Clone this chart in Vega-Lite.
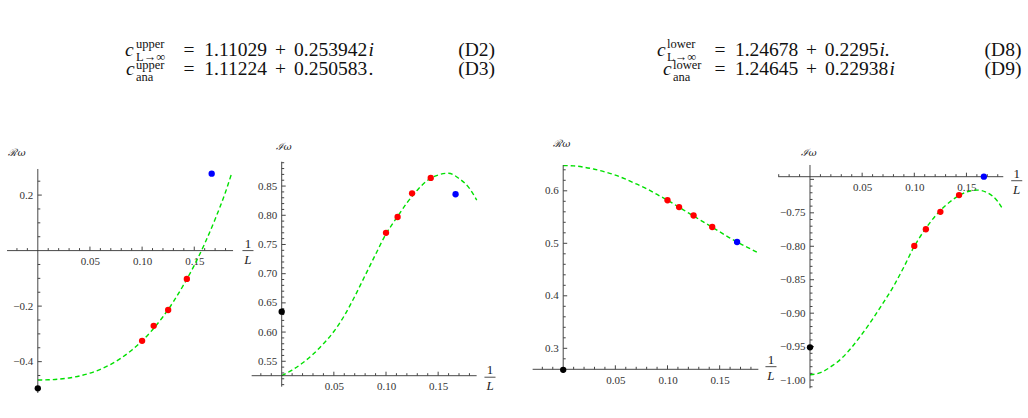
{
"$schema": "https://vega.github.io/schema/vega-lite/v6.json",
"padding": 0,
"background": "white",
"config": {"view": {"stroke": null}, "axis": {"domain": false, "grid": false, "tickSize": 0, "labelFont": "Liberation Serif", "labelFontSize": 11, "labelColor": "#333", "labelPadding": 5, "labelFlush": false, "labelOverlap": false}},
"datasets": {
"eqMain": [{"t": "=", "x": 189, "y": 56}, {"t": "1.11029", "x": 235.6, "y": 56}, {"t": "+", "x": 280.6, "y": 56}, {"t": "0.253942", "x": 330.6, "y": 56}, {"t": "=", "x": 189, "y": 75}, {"t": "1.11224", "x": 235.6, "y": 75}, {"t": "+", "x": 280.6, "y": 75}, {"t": "0.250583", "x": 330.6, "y": 75}, {"t": "=", "x": 720, "y": 56}, {"t": "1.24678", "x": 766.6, "y": 56}, {"t": "+", "x": 811.6, "y": 56}, {"t": "0.2295", "x": 851.6, "y": 56}, {"t": "=", "x": 720, "y": 75}, {"t": "1.24645", "x": 766.6, "y": 75}, {"t": "+", "x": 811.6, "y": 75}, {"t": "0.22938", "x": 856.6, "y": 75}],
"eqDot": [{"t": ".", "x": 368.5, "y": 75}],
"eqItal": [{"t": "c", "x": 125, "y": 56}, {"t": "c", "x": 126, "y": 75}, {"t": "c", "x": 657, "y": 56}, {"t": "c", "x": 663, "y": 75}, {"t": "i", "x": 368.5, "y": 56}, {"t": "i.", "x": 879.5, "y": 56}, {"t": "i", "x": 889.5, "y": 75}],
"eqScript": [{"t": "upper", "x": 136, "y": 47.5}, {"t": "L→∞", "x": 136, "y": 60.5}, {"t": "upper", "x": 136, "y": 68.5}, {"t": "ana", "x": 136, "y": 81}, {"t": "lower", "x": 667, "y": 47.5}, {"t": "L→∞", "x": 667, "y": 60.5}, {"t": "lower", "x": 673, "y": 68.5}, {"t": "ana", "x": 673, "y": 81}],
"eqNum": [{"t": "(D2)", "x": 476.7, "y": 56}, {"t": "(D3)", "x": 476.7, "y": 75}, {"t": "(D8)", "x": 1003, "y": 56}, {"t": "(D9)", "x": 1003, "y": 75}],
"xt1": [{"x": -0.02, "y": 0, "major": 0}, {"x": -0.01, "y": 0, "major": 0}, {"x": 0.01, "y": 0, "major": 0}, {"x": 0.02, "y": 0, "major": 0}, {"x": 0.03, "y": 0, "major": 0}, {"x": 0.04, "y": 0, "major": 0}, {"x": 0.05, "y": 0, "major": 1}, {"x": 0.06, "y": 0, "major": 0}, {"x": 0.07, "y": 0, "major": 0}, {"x": 0.08, "y": 0, "major": 0}, {"x": 0.09, "y": 0, "major": 0}, {"x": 0.1, "y": 0, "major": 1}, {"x": 0.11, "y": 0, "major": 0}, {"x": 0.12, "y": 0, "major": 0}, {"x": 0.13, "y": 0, "major": 0}, {"x": 0.14, "y": 0, "major": 0}, {"x": 0.15, "y": 0, "major": 1}, {"x": 0.16, "y": 0, "major": 0}, {"x": 0.17, "y": 0, "major": 0}, {"x": 0.18, "y": 0, "major": 0}],
"xt2": [{"x": -0.02, "y": 0.5253, "major": 0}, {"x": -0.01, "y": 0.5253, "major": 0}, {"x": 0.01, "y": 0.5253, "major": 0}, {"x": 0.02, "y": 0.5253, "major": 0}, {"x": 0.03, "y": 0.5253, "major": 0}, {"x": 0.04, "y": 0.5253, "major": 0}, {"x": 0.05, "y": 0.5253, "major": 1}, {"x": 0.06, "y": 0.5253, "major": 0}, {"x": 0.07, "y": 0.5253, "major": 0}, {"x": 0.08, "y": 0.5253, "major": 0}, {"x": 0.09, "y": 0.5253, "major": 0}, {"x": 0.1, "y": 0.5253, "major": 1}, {"x": 0.11, "y": 0.5253, "major": 0}, {"x": 0.12, "y": 0.5253, "major": 0}, {"x": 0.13, "y": 0.5253, "major": 0}, {"x": 0.14, "y": 0.5253, "major": 0}, {"x": 0.15, "y": 0.5253, "major": 1}, {"x": 0.16, "y": 0.5253, "major": 0}, {"x": 0.17, "y": 0.5253, "major": 0}, {"x": 0.18, "y": 0.5253, "major": 0}],
"xt3": [{"x": -0.02, "y": 0.26, "major": 0}, {"x": -0.01, "y": 0.26, "major": 0}, {"x": 0.01, "y": 0.26, "major": 0}, {"x": 0.02, "y": 0.26, "major": 0}, {"x": 0.03, "y": 0.26, "major": 0}, {"x": 0.04, "y": 0.26, "major": 0}, {"x": 0.05, "y": 0.26, "major": 1}, {"x": 0.06, "y": 0.26, "major": 0}, {"x": 0.07, "y": 0.26, "major": 0}, {"x": 0.08, "y": 0.26, "major": 0}, {"x": 0.09, "y": 0.26, "major": 0}, {"x": 0.1, "y": 0.26, "major": 1}, {"x": 0.11, "y": 0.26, "major": 0}, {"x": 0.12, "y": 0.26, "major": 0}, {"x": 0.13, "y": 0.26, "major": 0}, {"x": 0.14, "y": 0.26, "major": 0}, {"x": 0.15, "y": 0.26, "major": 1}, {"x": 0.16, "y": 0.26, "major": 0}, {"x": 0.17, "y": 0.26, "major": 0}, {"x": 0.18, "y": 0.26, "major": 0}],
"xt4": [{"x": -0.03, "y": -0.696, "major": 0}, {"x": -0.02, "y": -0.696, "major": 0}, {"x": -0.01, "y": -0.696, "major": 0}, {"x": 0.01, "y": -0.696, "major": 0}, {"x": 0.02, "y": -0.696, "major": 0}, {"x": 0.03, "y": -0.696, "major": 0}, {"x": 0.04, "y": -0.696, "major": 0}, {"x": 0.05, "y": -0.696, "major": 1}, {"x": 0.06, "y": -0.696, "major": 0}, {"x": 0.07, "y": -0.696, "major": 0}, {"x": 0.08, "y": -0.696, "major": 0}, {"x": 0.09, "y": -0.696, "major": 0}, {"x": 0.1, "y": -0.696, "major": 1}, {"x": 0.11, "y": -0.696, "major": 0}, {"x": 0.12, "y": -0.696, "major": 0}, {"x": 0.13, "y": -0.696, "major": 0}, {"x": 0.14, "y": -0.696, "major": 0}, {"x": 0.15, "y": -0.696, "major": 1}, {"x": 0.16, "y": -0.696, "major": 0}, {"x": 0.17, "y": -0.696, "major": 0}, {"x": 0.18, "y": -0.696, "major": 0}],
"yt1": [{"x": 0, "y": -0.5, "major": 0}, {"x": 0, "y": -0.45, "major": 0}, {"x": 0, "y": -0.4, "major": 1}, {"x": 0, "y": -0.35, "major": 0}, {"x": 0, "y": -0.3, "major": 0}, {"x": 0, "y": -0.25, "major": 0}, {"x": 0, "y": -0.2, "major": 1}, {"x": 0, "y": -0.15, "major": 0}, {"x": 0, "y": -0.1, "major": 0}, {"x": 0, "y": -0.05, "major": 0}, {"x": 0, "y": 0.05, "major": 0}, {"x": 0, "y": 0.1, "major": 0}, {"x": 0, "y": 0.15, "major": 0}, {"x": 0, "y": 0.2, "major": 1}, {"x": 0, "y": 0.25, "major": 0}],
"yt2": [{"x": 0, "y": 0.51, "major": 0}, {"x": 0, "y": 0.52, "major": 0}, {"x": 0, "y": 0.53, "major": 0}, {"x": 0, "y": 0.54, "major": 0}, {"x": 0, "y": 0.55, "major": 1}, {"x": 0, "y": 0.56, "major": 0}, {"x": 0, "y": 0.57, "major": 0}, {"x": 0, "y": 0.58, "major": 0}, {"x": 0, "y": 0.59, "major": 0}, {"x": 0, "y": 0.6, "major": 1}, {"x": 0, "y": 0.61, "major": 0}, {"x": 0, "y": 0.62, "major": 0}, {"x": 0, "y": 0.63, "major": 0}, {"x": 0, "y": 0.64, "major": 0}, {"x": 0, "y": 0.65, "major": 1}, {"x": 0, "y": 0.66, "major": 0}, {"x": 0, "y": 0.67, "major": 0}, {"x": 0, "y": 0.68, "major": 0}, {"x": 0, "y": 0.69, "major": 0}, {"x": 0, "y": 0.7, "major": 1}, {"x": 0, "y": 0.71, "major": 0}, {"x": 0, "y": 0.72, "major": 0}, {"x": 0, "y": 0.73, "major": 0}, {"x": 0, "y": 0.74, "major": 0}, {"x": 0, "y": 0.75, "major": 1}, {"x": 0, "y": 0.76, "major": 0}, {"x": 0, "y": 0.77, "major": 0}, {"x": 0, "y": 0.78, "major": 0}, {"x": 0, "y": 0.79, "major": 0}, {"x": 0, "y": 0.8, "major": 1}, {"x": 0, "y": 0.81, "major": 0}, {"x": 0, "y": 0.82, "major": 0}, {"x": 0, "y": 0.83, "major": 0}, {"x": 0, "y": 0.84, "major": 0}, {"x": 0, "y": 0.85, "major": 1}, {"x": 0, "y": 0.86, "major": 0}, {"x": 0, "y": 0.87, "major": 0}, {"x": 0, "y": 0.88, "major": 0}, {"x": 0, "y": 0.89, "major": 0}],
"yt3": [{"x": 0, "y": 0.28, "major": 0}, {"x": 0, "y": 0.3, "major": 1}, {"x": 0, "y": 0.32, "major": 0}, {"x": 0, "y": 0.34, "major": 0}, {"x": 0, "y": 0.36, "major": 0}, {"x": 0, "y": 0.38, "major": 0}, {"x": 0, "y": 0.4, "major": 1}, {"x": 0, "y": 0.42, "major": 0}, {"x": 0, "y": 0.44, "major": 0}, {"x": 0, "y": 0.46, "major": 0}, {"x": 0, "y": 0.48, "major": 0}, {"x": 0, "y": 0.5, "major": 1}, {"x": 0, "y": 0.52, "major": 0}, {"x": 0, "y": 0.54, "major": 0}, {"x": 0, "y": 0.56, "major": 0}, {"x": 0, "y": 0.58, "major": 0}, {"x": 0, "y": 0.6, "major": 1}, {"x": 0, "y": 0.62, "major": 0}, {"x": 0, "y": 0.64, "major": 0}],
"yt4": [{"x": 0, "y": -1.01, "major": 0}, {"x": 0, "y": -1.0, "major": 1}, {"x": 0, "y": -0.99, "major": 0}, {"x": 0, "y": -0.98, "major": 0}, {"x": 0, "y": -0.97, "major": 0}, {"x": 0, "y": -0.96, "major": 0}, {"x": 0, "y": -0.95, "major": 1}, {"x": 0, "y": -0.94, "major": 0}, {"x": 0, "y": -0.93, "major": 0}, {"x": 0, "y": -0.92, "major": 0}, {"x": 0, "y": -0.91, "major": 0}, {"x": 0, "y": -0.9, "major": 1}, {"x": 0, "y": -0.89, "major": 0}, {"x": 0, "y": -0.88, "major": 0}, {"x": 0, "y": -0.87, "major": 0}, {"x": 0, "y": -0.86, "major": 0}, {"x": 0, "y": -0.85, "major": 1}, {"x": 0, "y": -0.84, "major": 0}, {"x": 0, "y": -0.83, "major": 0}, {"x": 0, "y": -0.82, "major": 0}, {"x": 0, "y": -0.81, "major": 0}, {"x": 0, "y": -0.8, "major": 1}, {"x": 0, "y": -0.79, "major": 0}, {"x": 0, "y": -0.78, "major": 0}, {"x": 0, "y": -0.77, "major": 0}, {"x": 0, "y": -0.76, "major": 0}, {"x": 0, "y": -0.75, "major": 1}, {"x": 0, "y": -0.74, "major": 0}, {"x": 0, "y": -0.73, "major": 0}, {"x": 0, "y": -0.72, "major": 0}, {"x": 0, "y": -0.71, "major": 0}, {"x": 0, "y": -0.7, "major": 1}],
"c1": [{"x": 0, "y": -0.466}, {"x": 0.01, "y": -0.4654}, {"x": 0.02, "y": -0.4631}, {"x": 0.03, "y": -0.4587}, {"x": 0.04, "y": -0.4517}, {"x": 0.05, "y": -0.4415}, {"x": 0.06, "y": -0.4277}, {"x": 0.07, "y": -0.4096}, {"x": 0.08, "y": -0.3868}, {"x": 0.09, "y": -0.3588}, {"x": 0.1, "y": -0.325}, {"x": 0.11, "y": -0.285}, {"x": 0.12, "y": -0.2382}, {"x": 0.13, "y": -0.1841}, {"x": 0.14, "y": -0.1221}, {"x": 0.15, "y": -0.053}, {"x": 0.16, "y": 0.025}, {"x": 0.17, "y": 0.113}, {"x": 0.18, "y": 0.211}, {"x": 0.1855, "y": 0.274}],
"c2": [{"x": 0, "y": 0.5253}, {"x": 0.01, "y": 0.535}, {"x": 0.02, "y": 0.547}, {"x": 0.03, "y": 0.562}, {"x": 0.04, "y": 0.58}, {"x": 0.05, "y": 0.601}, {"x": 0.06, "y": 0.628}, {"x": 0.07, "y": 0.661}, {"x": 0.08, "y": 0.697}, {"x": 0.09, "y": 0.733}, {"x": 0.1, "y": 0.768}, {"x": 0.11, "y": 0.795}, {"x": 0.12, "y": 0.821}, {"x": 0.13, "y": 0.843}, {"x": 0.14, "y": 0.86}, {"x": 0.15, "y": 0.869}, {"x": 0.16, "y": 0.872}, {"x": 0.17, "y": 0.863}, {"x": 0.18, "y": 0.846}, {"x": 0.187, "y": 0.826}],
"c3": [{"x": 0, "y": 0.648}, {"x": 0.01, "y": 0.6475}, {"x": 0.02, "y": 0.645}, {"x": 0.03, "y": 0.641}, {"x": 0.04, "y": 0.636}, {"x": 0.05, "y": 0.63}, {"x": 0.06, "y": 0.622}, {"x": 0.07, "y": 0.613}, {"x": 0.08, "y": 0.604}, {"x": 0.09, "y": 0.593}, {"x": 0.1, "y": 0.582}, {"x": 0.11, "y": 0.57}, {"x": 0.12, "y": 0.558}, {"x": 0.13, "y": 0.546}, {"x": 0.14, "y": 0.534}, {"x": 0.15, "y": 0.522}, {"x": 0.16, "y": 0.51}, {"x": 0.17, "y": 0.499}, {"x": 0.18, "y": 0.489}, {"x": 0.187, "y": 0.482}],
"c4": [{"x": 0, "y": -0.992}, {"x": 0.01, "y": -0.989}, {"x": 0.02, "y": -0.98}, {"x": 0.03, "y": -0.968}, {"x": 0.04, "y": -0.951}, {"x": 0.05, "y": -0.931}, {"x": 0.06, "y": -0.909}, {"x": 0.07, "y": -0.885}, {"x": 0.08, "y": -0.86}, {"x": 0.09, "y": -0.831}, {"x": 0.1, "y": -0.8}, {"x": 0.11, "y": -0.7755}, {"x": 0.12, "y": -0.755}, {"x": 0.13, "y": -0.739}, {"x": 0.14, "y": -0.727}, {"x": 0.15, "y": -0.719}, {"x": 0.16, "y": -0.716}, {"x": 0.17, "y": -0.72}, {"x": 0.18, "y": -0.733}, {"x": 0.1853, "y": -0.746}],
"p1": [{"x": 0.1, "y": -0.325, "kind": "fit"}, {"x": 0.1111, "y": -0.271, "kind": "fit"}, {"x": 0.125, "y": -0.214, "kind": "fit"}, {"x": 0.1429, "y": -0.102, "kind": "fit"}, {"x": 0.1667, "y": 0.277, "kind": "excluded"}, {"x": 0, "y": -0.496, "kind": "limit"}],
"p2": [{"x": 0.1, "y": 0.77, "kind": "fit"}, {"x": 0.1111, "y": 0.797, "kind": "fit"}, {"x": 0.125, "y": 0.8375, "kind": "fit"}, {"x": 0.1429, "y": 0.864, "kind": "fit"}, {"x": 0.1667, "y": 0.836, "kind": "excluded"}, {"x": 0, "y": 0.635, "kind": "limit"}],
"p3": [{"x": 0.1, "y": 0.582, "kind": "fit"}, {"x": 0.1111, "y": 0.569, "kind": "fit"}, {"x": 0.125, "y": 0.553, "kind": "fit"}, {"x": 0.1429, "y": 0.531, "kind": "fit"}, {"x": 0.1667, "y": 0.5025, "kind": "excluded"}, {"x": 0, "y": 0.259, "kind": "limit"}],
"p4": [{"x": 0.1, "y": -0.7995, "kind": "fit"}, {"x": 0.1111, "y": -0.7745, "kind": "fit"}, {"x": 0.125, "y": -0.7485, "kind": "fit"}, {"x": 0.1429, "y": -0.7235, "kind": "fit"}, {"x": 0.1667, "y": -0.696, "kind": "excluded"}, {"x": 0, "y": -0.951, "kind": "limit"}],
"a1": [{"x": -0.0295, "x2": 0.1872, "y": 0, "y2": 0}, {"x": 0, "x2": 0, "y": -0.513, "y2": 0.294}],
"a2": [{"x": -0.0288, "x2": 0.1869, "y": 0.5253, "y2": 0.5253}, {"x": 0, "x2": 0, "y": 0.5065, "y2": 0.8917}],
"a3": [{"x": -0.0293, "x2": 0.1871, "y": 0.26, "y2": 0.26}, {"x": 0, "x2": 0, "y": 0.253, "y2": 0.6491}],
"a4": [{"x": -0.0304, "x2": 0.1853, "y": -0.696, "y2": -0.696}, {"x": 0, "x2": 0, "y": -1.0123, "y2": -0.6785}],
"t1": [{"x": -0.0199, "y": 0.3516, "t": "ℛω"}],
"t2": [{"x": 0.0022, "y": 0.9169, "t": "ℐω"}],
"t3": [{"x": -0.0012, "y": 0.689, "t": "ℛω"}],
"t4": [{"x": -0.001, "y": -0.6606, "t": "ℐω"}],
"fl1": [{"x": 0.2015, "y": 0}],
"fl2": [{"x": 0.1997, "y": 0.5227}],
"fl3": [{"x": 0.1992, "y": 0.265}],
"fl4": [{"x": 0.1982, "y": -0.702}],
"fb1": [{"x": 0.1962, "x2": 0.2068, "y": 0}],
"fb2": [{"x": 0.1944, "x2": 0.205, "y": 0.5227}],
"fb3": [{"x": 0.1939, "x2": 0.2045, "y": 0.265}],
"fb4": [{"x": 0.1929, "x2": 0.2035, "y": -0.702}]
},
"spacing": 0,
"bounds": "flush",
"vconcat": [
{
"width": 1028, "height": 158,
"encoding": {
"x": {"field": "x", "type": "quantitative", "scale": {"domain": [0, 1028], "nice": false, "zero": false}, "axis": null},
"y": {"field": "y", "type": "quantitative", "scale": {"domain": [0, 158], "nice": false, "zero": false, "reverse": true}, "axis": null},
"text": {"field": "t"}
},
"layer": [
{"data": {"name": "eqMain"}, "mark": {"type": "text", "font": "Liberation Serif", "fontSize": 19.5, "align": "center", "baseline": "alphabetic", "color": "#111"}},
{"data": {"name": "eqDot"}, "mark": {"type": "text", "font": "Liberation Serif", "fontSize": 19.5, "align": "left", "baseline": "alphabetic", "color": "#111"}},
{"data": {"name": "eqItal"}, "mark": {"type": "text", "font": "Liberation Serif", "fontStyle": "italic", "fontSize": 19.5, "align": "left", "baseline": "alphabetic", "color": "#111"}},
{"data": {"name": "eqScript"}, "mark": {"type": "text", "font": "Liberation Serif", "fontSize": 12.5, "align": "left", "baseline": "alphabetic", "color": "#111"}},
{"data": {"name": "eqNum"}, "mark": {"type": "text", "font": "Liberation Serif", "fontSize": 19.5, "align": "center", "baseline": "alphabetic", "color": "#111"}}
]
},
{
"hconcat": [
{
"width": 257, "height": 238,
"encoding": {
"x": {"field": "x", "type": "quantitative", "scale": {"domain": [-0.03624, 0.21016], "nice": false, "zero": false}, "axis": {"orient": "bottom", "offset": -145.4, "title": null, "values": [0.05, 0.1, 0.15], "format": ".2f"}},
"y": {"field": "y", "type": "quantitative", "scale": {"domain": [-0.52377, 0.33357], "nice": false, "zero": false}, "axis": {"orient": "left", "offset": -37.8, "title": null, "values": [-0.4, -0.2, 0.2], "labelExpr": "replace(format(datum.value, '.1f'), '-', '\u2212')"}}
},
"layer": [
{"data": {"name": "c1"}, "mark": {"type": "line", "color": "#00e000", "strokeWidth": 1.4, "strokeDash": [4.5, 3], "interpolate": "monotone"}},
{"data": {"name": "a1"}, "mark": {"type": "rule", "color": "#333", "strokeWidth": 0.9}, "encoding": {"x2": {"field": "x2"}, "y2": {"field": "y2"}}},
{"data": {"name": "xt1"}, "transform": [{"filter": "datum.major == 1"}], "mark": {"type": "rule", "color": "#444", "strokeWidth": 1, "y2Offset": -4}, "encoding": {"y2": {"field": "y"}}},
{"data": {"name": "xt1"}, "transform": [{"filter": "datum.major == 0"}], "mark": {"type": "rule", "color": "#444", "strokeWidth": 1, "y2Offset": -2.5}, "encoding": {"y2": {"field": "y"}}},
{"data": {"name": "yt1"}, "transform": [{"filter": "datum.major == 1"}], "mark": {"type": "rule", "color": "#444", "strokeWidth": 1, "x2Offset": 4}, "encoding": {"x2": {"field": "x"}}},
{"data": {"name": "yt1"}, "transform": [{"filter": "datum.major == 0"}], "mark": {"type": "rule", "color": "#444", "strokeWidth": 1, "x2Offset": 2.5}, "encoding": {"x2": {"field": "x"}}},
{"data": {"name": "p1"}, "mark": {"type": "circle", "size": 40, "opacity": 1}, "encoding": {"color": {"field": "kind", "type": "nominal", "scale": {"domain": ["fit", "excluded", "limit"], "range": ["#ff0000", "#0000ff", "#000000"]}, "legend": null}}},
{"data": {"name": "t1"}, "mark": {"type": "text", "font": "DejaVu Serif", "fontStyle": "italic", "fontSize": 10, "color": "#222"}, "encoding": {"text": {"field": "t"}}},
{"data": {"name": "fl1"}, "mark": {"type": "text", "text": "1", "font": "Liberation Serif", "fontSize": 13, "baseline": "alphabetic", "dy": -3, "color": "#222"}},
{"data": {"name": "fl1"}, "mark": {"type": "text", "text": "L", "font": "Liberation Serif", "fontStyle": "italic", "fontSize": 13, "baseline": "top", "dy": 3, "color": "#222"}},
{"data": {"name": "fb1"}, "mark": {"type": "rule", "color": "#222", "strokeWidth": 0.8}, "encoding": {"x2": {"field": "x2"}}}
]
},
{
"width": 257, "height": 238,
"encoding": {
"x": {"field": "x", "type": "quantitative", "scale": {"domain": [-0.02368, 0.22272], "nice": false, "zero": false}, "axis": {"orient": "bottom", "offset": -20.3, "title": null, "values": [0.05, 0.1, 0.15], "format": ".2f"}},
"y": {"field": "y", "type": "quantitative", "scale": {"domain": [0.49054, 0.89807], "nice": false, "zero": false}, "axis": {"orient": "left", "offset": -24.7, "title": null, "values": [0.55, 0.6, 0.65, 0.7, 0.75, 0.8, 0.85], "format": ".2f"}}
},
"layer": [
{"data": {"name": "c2"}, "mark": {"type": "line", "color": "#00e000", "strokeWidth": 1.4, "strokeDash": [4.5, 3], "interpolate": "monotone"}},
{"data": {"name": "a2"}, "mark": {"type": "rule", "color": "#333", "strokeWidth": 0.9}, "encoding": {"x2": {"field": "x2"}, "y2": {"field": "y2"}}},
{"data": {"name": "xt2"}, "transform": [{"filter": "datum.major == 1"}], "mark": {"type": "rule", "color": "#444", "strokeWidth": 1, "y2Offset": -4}, "encoding": {"y2": {"field": "y"}}},
{"data": {"name": "xt2"}, "transform": [{"filter": "datum.major == 0"}], "mark": {"type": "rule", "color": "#444", "strokeWidth": 1, "y2Offset": -2.5}, "encoding": {"y2": {"field": "y"}}},
{"data": {"name": "yt2"}, "transform": [{"filter": "datum.major == 1"}], "mark": {"type": "rule", "color": "#444", "strokeWidth": 1, "x2Offset": 4}, "encoding": {"x2": {"field": "x"}}},
{"data": {"name": "yt2"}, "transform": [{"filter": "datum.major == 0"}], "mark": {"type": "rule", "color": "#444", "strokeWidth": 1, "x2Offset": 2.5}, "encoding": {"x2": {"field": "x"}}},
{"data": {"name": "p2"}, "mark": {"type": "circle", "size": 40, "opacity": 1}, "encoding": {"color": {"field": "kind", "type": "nominal", "scale": {"domain": ["fit", "excluded", "limit"], "range": ["#ff0000", "#0000ff", "#000000"]}, "legend": null}}},
{"data": {"name": "t2"}, "mark": {"type": "text", "font": "DejaVu Serif", "fontStyle": "italic", "fontSize": 10, "color": "#222"}, "encoding": {"text": {"field": "t"}}},
{"data": {"name": "fl2"}, "mark": {"type": "text", "text": "1", "font": "Liberation Serif", "fontSize": 13, "baseline": "alphabetic", "dy": -3, "color": "#222"}},
{"data": {"name": "fl2"}, "mark": {"type": "text", "text": "L", "font": "Liberation Serif", "fontStyle": "italic", "fontSize": 13, "baseline": "top", "dy": 3, "color": "#222"}},
{"data": {"name": "fb2"}, "mark": {"type": "rule", "color": "#222", "strokeWidth": 0.8}, "encoding": {"x2": {"field": "x2"}}}
]
},
{
"width": 257, "height": 238,
"encoding": {
"x": {"field": "x", "type": "quantitative", "scale": {"domain": [-0.04717, 0.19923], "nice": false, "zero": false}, "axis": {"orient": "bottom", "offset": -26.7, "title": null, "values": [0.05, 0.1, 0.15], "format": ".2f"}},
"y": {"field": "y", "type": "quantitative", "scale": {"domain": [0.20914, 0.66248], "nice": false, "zero": false}, "axis": {"orient": "left", "offset": -49.2, "title": null, "values": [0.3, 0.4, 0.5, 0.6], "format": ".1f"}}
},
"layer": [
{"data": {"name": "c3"}, "mark": {"type": "line", "color": "#00e000", "strokeWidth": 1.4, "strokeDash": [4.5, 3], "interpolate": "monotone"}},
{"data": {"name": "a3"}, "mark": {"type": "rule", "color": "#333", "strokeWidth": 0.9}, "encoding": {"x2": {"field": "x2"}, "y2": {"field": "y2"}}},
{"data": {"name": "xt3"}, "transform": [{"filter": "datum.major == 1"}], "mark": {"type": "rule", "color": "#444", "strokeWidth": 1, "y2Offset": -4}, "encoding": {"y2": {"field": "y"}}},
{"data": {"name": "xt3"}, "transform": [{"filter": "datum.major == 0"}], "mark": {"type": "rule", "color": "#444", "strokeWidth": 1, "y2Offset": -2.5}, "encoding": {"y2": {"field": "y"}}},
{"data": {"name": "yt3"}, "transform": [{"filter": "datum.major == 1"}], "mark": {"type": "rule", "color": "#444", "strokeWidth": 1, "x2Offset": 4}, "encoding": {"x2": {"field": "x"}}},
{"data": {"name": "yt3"}, "transform": [{"filter": "datum.major == 0"}], "mark": {"type": "rule", "color": "#444", "strokeWidth": 1, "x2Offset": 2.5}, "encoding": {"x2": {"field": "x"}}},
{"data": {"name": "p3"}, "mark": {"type": "circle", "size": 40, "opacity": 1}, "encoding": {"color": {"field": "kind", "type": "nominal", "scale": {"domain": ["fit", "excluded", "limit"], "range": ["#ff0000", "#0000ff", "#000000"]}, "legend": null}}},
{"data": {"name": "t3"}, "mark": {"type": "text", "font": "DejaVu Serif", "fontStyle": "italic", "fontSize": 10, "color": "#222"}, "encoding": {"text": {"field": "t"}}},
{"data": {"name": "fl3"}, "mark": {"type": "text", "text": "1", "font": "Liberation Serif", "fontSize": 13, "baseline": "alphabetic", "dy": -3, "color": "#222"}},
{"data": {"name": "fl3"}, "mark": {"type": "text", "text": "L", "font": "Liberation Serif", "fontStyle": "italic", "fontSize": 13, "baseline": "top", "dy": 3, "color": "#222"}},
{"data": {"name": "fb3"}, "mark": {"type": "rule", "color": "#222", "strokeWidth": 0.8}, "encoding": {"x2": {"field": "x2"}}}
]
},
{
"width": 257, "height": 238,
"encoding": {
"x": {"field": "x", "type": "quantitative", "scale": {"domain": [-0.03739, 0.20901], "nice": false, "zero": false}, "axis": {"orient": "bottom", "offset": -219.3, "title": null, "values": [0.05, 0.1, 0.15], "format": ".2f"}},
"y": {"field": "y", "type": "quantitative", "scale": {"domain": [-1.0238, -0.66805], "nice": false, "zero": false}, "axis": {"orient": "left", "offset": -39, "title": null, "values": [-1.0, -0.95, -0.9, -0.85, -0.8, -0.75], "labelExpr": "replace(format(datum.value, '.2f'), '-', '\u2212')"}}
},
"layer": [
{"data": {"name": "c4"}, "mark": {"type": "line", "color": "#00e000", "strokeWidth": 1.4, "strokeDash": [4.5, 3], "interpolate": "monotone"}},
{"data": {"name": "a4"}, "mark": {"type": "rule", "color": "#333", "strokeWidth": 0.9}, "encoding": {"x2": {"field": "x2"}, "y2": {"field": "y2"}}},
{"data": {"name": "xt4"}, "transform": [{"filter": "datum.major == 1"}], "mark": {"type": "rule", "color": "#444", "strokeWidth": 1, "y2Offset": -4}, "encoding": {"y2": {"field": "y"}}},
{"data": {"name": "xt4"}, "transform": [{"filter": "datum.major == 0"}], "mark": {"type": "rule", "color": "#444", "strokeWidth": 1, "y2Offset": -2.5}, "encoding": {"y2": {"field": "y"}}},
{"data": {"name": "yt4"}, "transform": [{"filter": "datum.major == 1"}], "mark": {"type": "rule", "color": "#444", "strokeWidth": 1, "x2Offset": 4}, "encoding": {"x2": {"field": "x"}}},
{"data": {"name": "yt4"}, "transform": [{"filter": "datum.major == 0"}], "mark": {"type": "rule", "color": "#444", "strokeWidth": 1, "x2Offset": 2.5}, "encoding": {"x2": {"field": "x"}}},
{"data": {"name": "p4"}, "mark": {"type": "circle", "size": 40, "opacity": 1}, "encoding": {"color": {"field": "kind", "type": "nominal", "scale": {"domain": ["fit", "excluded", "limit"], "range": ["#ff0000", "#0000ff", "#000000"]}, "legend": null}}},
{"data": {"name": "t4"}, "mark": {"type": "text", "font": "DejaVu Serif", "fontStyle": "italic", "fontSize": 10, "color": "#222"}, "encoding": {"text": {"field": "t"}}},
{"data": {"name": "fl4"}, "mark": {"type": "text", "text": "1", "font": "Liberation Serif", "fontSize": 13, "baseline": "alphabetic", "dy": -3, "color": "#222"}},
{"data": {"name": "fl4"}, "mark": {"type": "text", "text": "L", "font": "Liberation Serif", "fontStyle": "italic", "fontSize": 13, "baseline": "top", "dy": 3, "color": "#222"}},
{"data": {"name": "fb4"}, "mark": {"type": "rule", "color": "#222", "strokeWidth": 0.8}, "encoding": {"x2": {"field": "x2"}}}
]
}
],
"spacing": 0,
"bounds": "flush"
}
]
}
